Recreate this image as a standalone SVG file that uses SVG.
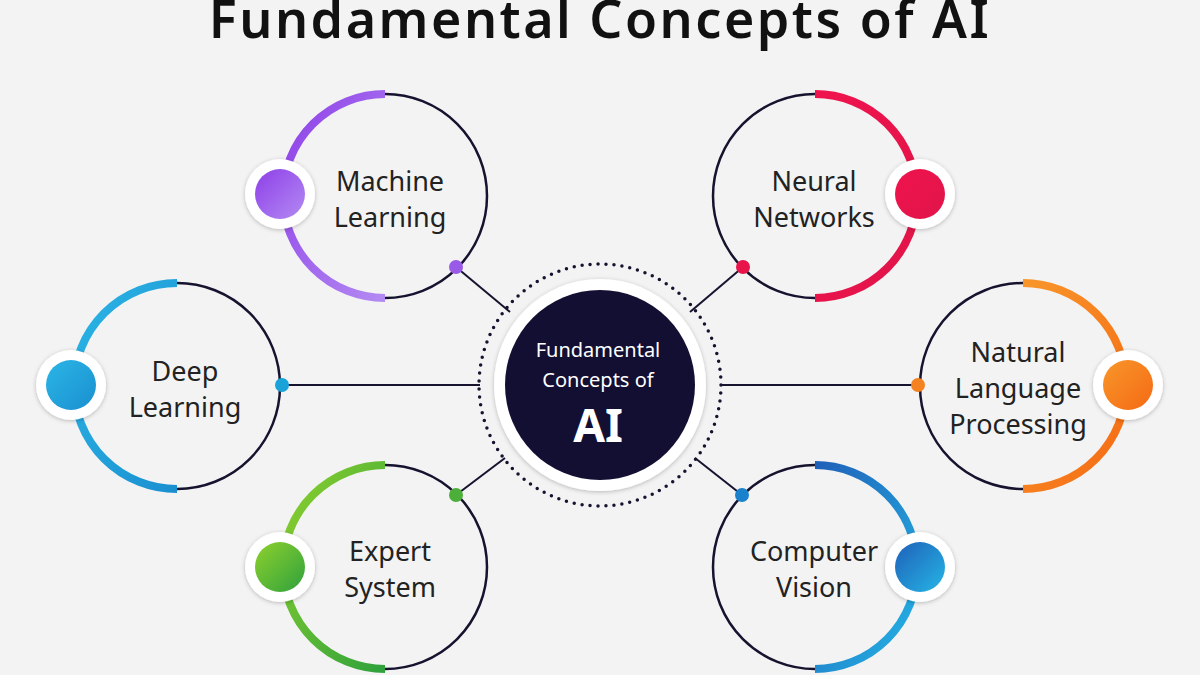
<svg xmlns="http://www.w3.org/2000/svg" width="1200" height="675" viewBox="0 0 1200 675">
<style>
.ring{fill:none;stroke:#16132f;stroke-width:2.5}
.arc{fill:none;stroke-width:8;stroke-linecap:butt}
.lbl{font-family:"Noto Sans","Open Sans",sans-serif;font-size:27px;fill:#222;text-anchor:middle}
.con{stroke:#16132f;stroke-width:2;fill:none}
.kw{fill:#fff;filter:url(#sh)}
</style>
<defs>
<filter id="sh" x="-30%" y="-30%" width="160%" height="160%"><feDropShadow dx="0" dy="1" stdDeviation="2" flood-opacity="0.25"/></filter>
<linearGradient id="gP" x1="0" y1="0" x2="1" y2="1"><stop offset="0" stop-color="#8e3fe8"/><stop offset="1" stop-color="#b38af2"/></linearGradient>
<linearGradient id="gR" x1="0" y1="0" x2="1" y2="1"><stop offset="0" stop-color="#f0134d"/><stop offset="1" stop-color="#e0154a"/></linearGradient>
<linearGradient id="gB" x1="0" y1="0" x2="1" y2="1"><stop offset="0" stop-color="#2bb6e6"/><stop offset="1" stop-color="#1a8fd0"/></linearGradient>
<linearGradient id="gO" x1="0" y1="0" x2="1" y2="1"><stop offset="0" stop-color="#f8962a"/><stop offset="1" stop-color="#f56a14"/></linearGradient>
<linearGradient id="gG" x1="0" y1="0" x2="1" y2="1"><stop offset="0" stop-color="#8fd12e"/><stop offset="1" stop-color="#2ea13c"/></linearGradient>
<linearGradient id="gC" x1="0" y1="0" x2="1" y2="1"><stop offset="0" stop-color="#1f60b8"/><stop offset="1" stop-color="#25b6e6"/></linearGradient>
</defs>
<rect width="1200" height="675" fill="#f3f3f3"/>
<text x="600" y="38" font-family="'Noto Sans','Open Sans',sans-serif" font-size="52" font-weight="600" letter-spacing="2.5" fill="#111" text-anchor="middle">Fundamental Concepts of AI</text>

<g id="connectors">
<line class="con" x1="456" y1="267" x2="510" y2="312"/>
<line class="con" x1="743" y1="267" x2="690" y2="312"/>
<line class="con" x1="282" y1="385" x2="480" y2="385"/>
<line class="con" x1="918" y1="385" x2="720" y2="385"/>
<line class="con" x1="456" y1="495" x2="505" y2="458"/>
<line class="con" x1="742" y1="495" x2="695" y2="458"/>
</g>

<g id="center">
<circle cx="600" cy="385" r="121" fill="none" stroke="#16132f" stroke-width="3.5" stroke-dasharray="0 8" stroke-linecap="round"/>
<circle cx="600" cy="385" r="106" fill="#fff" filter="url(#sh)"/>
<circle cx="600" cy="385" r="95" fill="#130f33"/>
<text x="598" y="357" font-family="'Noto Sans','Open Sans',sans-serif" font-size="20" fill="#fff" text-anchor="middle">Fundamental</text>
<text x="598" y="387" font-family="'Noto Sans','Open Sans',sans-serif" font-size="20" fill="#fff" text-anchor="middle">Concepts of</text>
<text x="598" y="442" font-family="'Noto Sans','Open Sans',sans-serif" font-size="46" font-weight="bold" fill="#fff" text-anchor="middle">AI</text>
</g>

<g id="machine-learning">
<circle class="ring" cx="385" cy="196" r="102"/>
<path class="arc" stroke="url(#gP)" d="M385 94 A102 102 0 0 0 385 298"/>
<circle class="kw" cx="280" cy="194" r="35"/><circle cx="280" cy="194" r="25" fill="url(#gP)"/>
<circle cx="456" cy="267" r="7" fill="#9a5ae8"/>
<text class="lbl" x="390" y="191">Machine</text><text class="lbl" x="390" y="227">Learning</text>
</g>

<g id="neural-networks">
<circle class="ring" cx="815" cy="196" r="102"/>
<path class="arc" stroke="url(#gR)" d="M815 94 A102 102 0 0 1 815 298"/>
<circle class="kw" cx="920" cy="194" r="35"/><circle cx="920" cy="194" r="25" fill="url(#gR)"/>
<circle cx="743" cy="267" r="7" fill="#e8134a"/>
<text class="lbl" x="814" y="191">Neural</text><text class="lbl" x="814" y="227">Networks</text>
</g>

<g id="deep-learning">
<circle class="ring" cx="177" cy="386" r="103"/>
<path class="arc" stroke="url(#gB)" d="M177 283 A103 103 0 0 0 177 489"/>
<circle class="kw" cx="71" cy="385" r="35"/><circle cx="71" cy="385" r="25" fill="url(#gB)"/>
<circle cx="282" cy="385" r="7" fill="#1aa3d8"/>
<text class="lbl" x="185" y="381">Deep</text><text class="lbl" x="185" y="417">Learning</text>
</g>

<g id="nlp">
<circle class="ring" cx="1023" cy="386" r="103"/>
<path class="arc" stroke="url(#gO)" d="M1023 283 A103 103 0 0 1 1023 489"/>
<circle class="kw" cx="1128" cy="385" r="35"/><circle cx="1128" cy="385" r="25" fill="url(#gO)"/>
<circle cx="918" cy="385" r="7" fill="#f58220"/>
<text class="lbl" x="1018" y="362">Natural</text><text class="lbl" x="1018" y="398">Language</text><text class="lbl" x="1018" y="434">Processing</text>
</g>

<g id="expert-system">
<circle class="ring" cx="385" cy="567" r="102"/>
<path class="arc" stroke="url(#gG)" d="M385 465 A102 102 0 0 0 385 669"/>
<circle class="kw" cx="280" cy="567" r="35"/><circle cx="280" cy="567" r="25" fill="url(#gG)"/>
<circle cx="456" cy="495" r="7" fill="#4caf3a"/>
<text class="lbl" x="390" y="561">Expert</text><text class="lbl" x="390" y="597">System</text>
</g>

<g id="computer-vision">
<circle class="ring" cx="815" cy="567" r="102"/>
<path class="arc" stroke="url(#gC)" d="M815 465 A102 102 0 0 1 815 669"/>
<circle class="kw" cx="920" cy="567" r="35"/><circle cx="920" cy="567" r="25" fill="url(#gC)"/>
<circle cx="742" cy="495" r="7" fill="#1a82cc"/>
<text class="lbl" x="814" y="561">Computer</text><text class="lbl" x="814" y="597">Vision</text>
</g>
</svg>
